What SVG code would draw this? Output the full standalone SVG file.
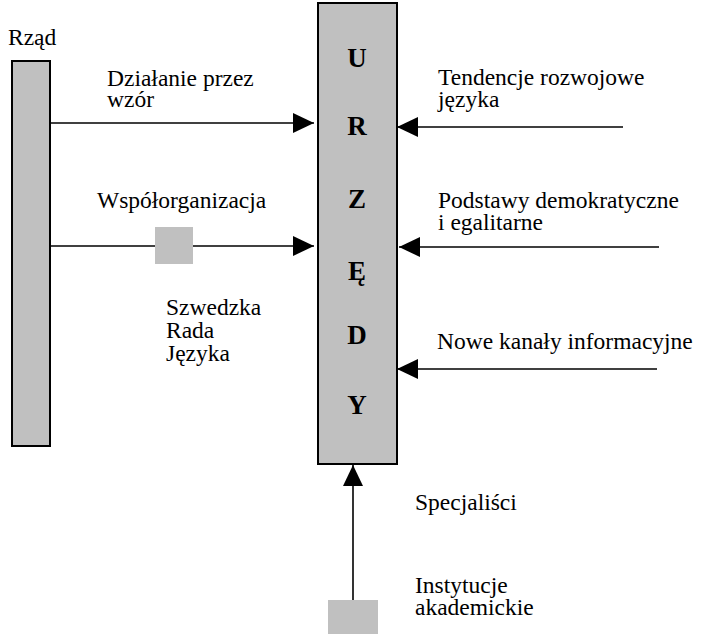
<svg xmlns="http://www.w3.org/2000/svg" width="701" height="634" viewBox="0 0 701 634">
<style>
.box{fill:#c0c0c0;stroke:#000;stroke-width:2}
.sq{fill:#c0c0c0;stroke:none}
.t{font-family:'Times New Roman','Liberation Serif','DejaVu Serif',serif;font-size:23.5px;fill:#000}
.b{font-family:'Times New Roman','Liberation Serif','DejaVu Serif',serif;font-size:27px;font-weight:bold;fill:#000;text-anchor:middle}
.c{stroke:#000;stroke-width:1.6;fill:none;marker-end:url(#ah)}
</style>
<defs>
<marker id="ah" markerUnits="userSpaceOnUse" markerWidth="21" markerHeight="20" refX="21" refY="10" orient="auto">
<path d="M0,0 L21,10 L0,20 z" fill="#000"/>
</marker>
</defs>
<g id="connectors">
<path class="c" d="M50,123 L314,123"/>
<path class="c" d="M50,246 L314,246"/>
<path class="c" d="M623,127 L397,127"/>
<path class="c" d="M659,247 L399,247"/>
<path class="c" d="M657,369 L397,369"/>
<path class="c" d="M353,600 L353,465"/>
</g>
<g id="rzad">
<rect class="box" x="12" y="61" width="38" height="385"/>
<text class="t" x="8" y="45">Rząd</text>
</g>
<g id="urzedy">
<rect class="box" x="318" y="3" width="79" height="461"/>
<text class="b" x="357" y="67">U</text>
<text class="b" x="357" y="135">R</text>
<text class="b" x="357" y="208">Z</text>
<text class="b" x="357" y="280">Ę</text>
<text class="b" x="357" y="344">D</text>
<text class="b" x="357" y="414">Y</text>
</g>
<g id="rada">
<rect class="sq" x="155" y="227" width="38" height="37"/>
<text class="t" x="166" y="315">Szwedzka</text>
<text class="t" x="166" y="338">Rada</text>
<text class="t" x="166" y="361">Języka</text>
</g>
<g id="instytucje">
<rect class="sq" x="328" y="600" width="50" height="34"/>
<text class="t" x="415" y="593">Instytucje</text>
<text class="t" x="415" y="615">akademickie</text>
</g>
<g id="labels">
<text class="t" x="107" y="86">Działanie przez</text>
<text class="t" x="107" y="107">wzór</text>
<text class="t" x="97" y="208">Współorganizacja</text>
<text class="t" x="438" y="85">Tendencje rozwojowe</text>
<text class="t" x="438" y="107">języka</text>
<text class="t" x="438" y="208">Podstawy demokratyczne</text>
<text class="t" x="438" y="230">i egalitarne</text>
<text class="t" x="437" y="349">Nowe kanały informacyjne</text>
<text class="t" x="415" y="510">Specjaliści</text>
</g>
</svg>
